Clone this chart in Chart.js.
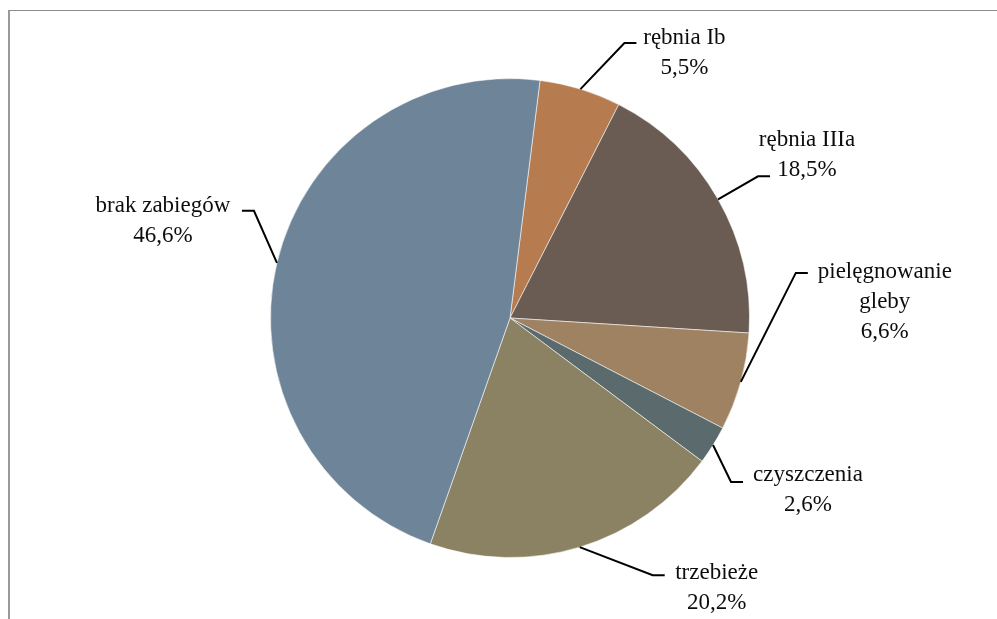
<!DOCTYPE html>
<html>
<head>
<meta charset="utf-8">
<script src="https://cdn.jsdelivr.net/npm/chart.js@4.4.1/dist/chart.umd.min.js"></script>
<style>
    html, body { margin: 0; padding: 0; background: #fff; }
    #wrap { position: relative; width: 997px; height: 619px; }
    #frame {
        position: absolute; left: 8px; top: 10px; right: 0; bottom: 0;
        border-top: 1px solid #8c8c8c; border-left: 2px solid #9a9a9a;
        pointer-events: none;
    }
    canvas { position: absolute; left: 0; top: 0; }
</style>
</head>
<body>
<div id="wrap">
    <canvas id="pie" width="997" height="619"></canvas>
    <div id="frame"></div>
</div>
<script>
// kategorie i udziały (%)
const categories = ['rębnia Ib', 'rębnia IIIa', 'pielęgnowanie gleby', 'czyszczenia', 'trzebieże', 'brak zabiegów'];
const shares = [5.5, 18.5, 6.6, 2.6, 20.2, 46.6];
const sliceColors = ['#B67C50', '#6A5C52', '#9E8262', '#5A6A6D', '#8A8262', '#6E8599'];

// tekst etykiet (podział na wiersze jak w oryginale)
const labelLines = [['rębnia Ib'], ['rębnia IIIa'], ['pielęgnowanie', 'gleby'], ['czyszczenia'], ['trzebieże'], ['brak zabiegów']];

// położenie etykiet względem krawędzi wycinka oraz końca linii odniesienia
const labelOffsets = [
    { dx: 104, dy: -36, ex: -48, ey: -10, side: 'left' },
    { dx: 89, dy: -44, ex: -37, ey: 21, side: 'left' },
    { dx: 144, dy: -80, ex: -77, ey: -29, side: 'left' },
    { dx: 95, dy: 45, ex: -65, ey: -8, side: 'left' },
    { dx: 137, dy: 41, ex: -52, ey: -13, side: 'left' },
    { dx: -114, dy: -42, ex: 79, ey: -10, side: 'right' }
];

const FONT = '23px "Liberation Serif", "Times New Roman", serif';
const LINE_H = 30;

function formatPct(v) {
    return v.toFixed(1).replace('.', ',') + '%';
}

// wtyczka rysująca etykiety z liniami odniesienia
const leaderLabels = {
    id: 'leaderLabels',
    afterDatasetsDraw(chart) {
        const ctx = chart.ctx;
        const meta = chart.getDatasetMeta(0);
        ctx.save();
        ctx.font = FONT;
        ctx.fillStyle = '#0d0d0d';
        ctx.textAlign = 'center';
        ctx.textBaseline = 'middle';
        ctx.strokeStyle = '#000';
        ctx.lineWidth = 2;

        meta.data.forEach((arc, i) => {
            const mid = (arc.startAngle + arc.endAngle) / 2;
            const r = arc.outerRadius;
            const px = arc.x + Math.cos(mid) * r;
            const py = arc.y + Math.sin(mid) * r;
            const o = labelOffsets[i];
            const cx = px + o.dx;
            const cy = py + o.dy;

            // linia odniesienia
            const endX = cx + o.ex;
            const endY = cy + o.ey;
            const elbowX = o.side === 'left' ? endX - 12 : endX + 12;
            ctx.beginPath();
            ctx.moveTo(px, py);
            ctx.lineTo(elbowX, endY);
            ctx.lineTo(endX, endY);
            ctx.stroke();

            // tekst
            const lines = labelLines[i].concat([formatPct(shares[i])]);
            const top = cy - (lines.length - 1) * LINE_H / 2;
            lines.forEach((t, k) => ctx.fillText(t, cx, top + k * LINE_H));
        });
        ctx.restore();
    }
};

new Chart(document.getElementById('pie'), {
    type: 'pie',
    data: {
        labels: categories,
        datasets: [{
            data: shares,
            backgroundColor: sliceColors,
            borderColor: 'rgba(255,255,255,0.55)',
            borderWidth: 1
        }]
    },
    options: {
        responsive: false,
        animation: false,
        rotation: 7.2,
        layout: { padding: { left: 270, right: 247, top: 78, bottom: 61 } },
        plugins: {
            legend: { display: false },
            tooltip: { enabled: false }
        }
    },
    plugins: [leaderLabels]
});
</script>
</body>
</html>
